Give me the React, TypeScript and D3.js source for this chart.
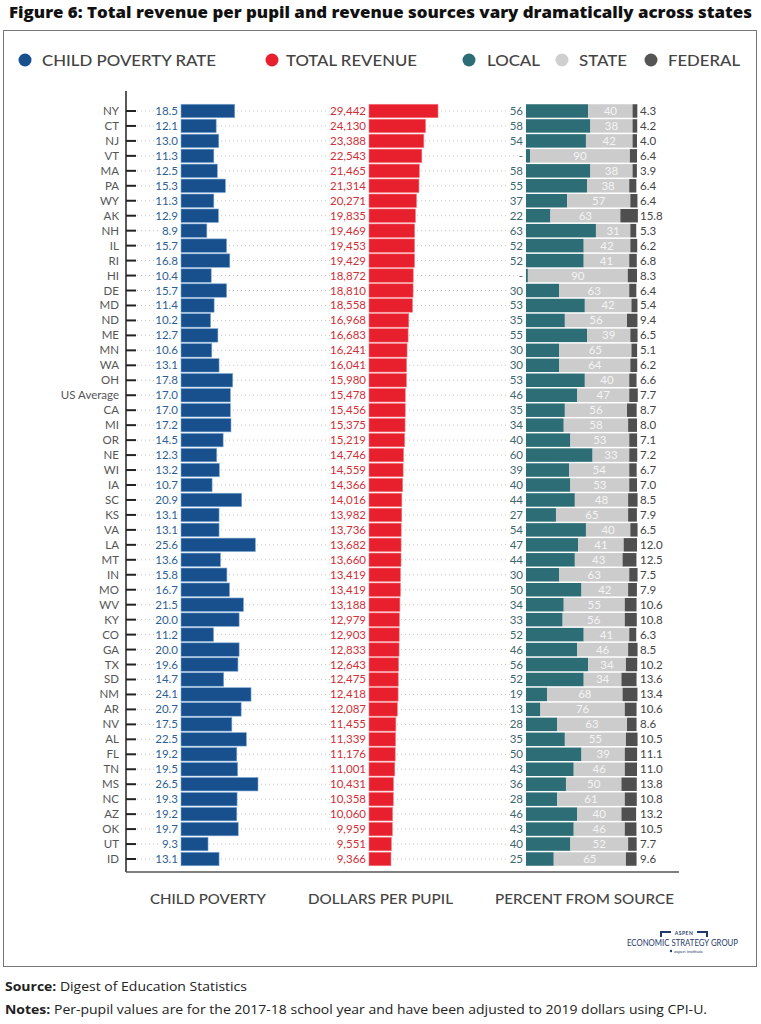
import React from "react";
import * as d3 from "d3";

const states = ["NY","CT","NJ","VT","MA","PA","WY","AK","NH","IL","RI","HI","DE","MD","ND","ME","MN","WA","OH","US Average","CA","MI","OR","NE","WI","IA","SC","KS","VA","LA","MT","IN","MO","WV","KY","CO","GA","TX","SD","NM","AR","NV","AL","FL","TN","MS","NC","AZ","OK","UT","ID"];
const poverty = [18.5,12.1,13.0,11.3,12.5,15.3,11.3,12.9,8.9,15.7,16.8,10.4,15.7,11.4,10.2,12.7,10.6,13.1,17.8,17.0,17.0,17.2,14.5,12.3,13.2,10.7,20.9,13.1,13.1,25.6,13.6,15.8,16.7,21.5,20.0,11.2,20.0,19.6,14.7,24.1,20.7,17.5,22.5,19.2,19.5,26.5,19.3,19.2,19.7,9.3,13.1];
const revenue = [29442,24130,23388,22543,21465,21314,20271,19835,19469,19453,19429,18872,18810,18558,16968,16683,16241,16041,15980,15478,15456,15375,15219,14746,14559,14366,14016,13982,13736,13682,13660,13419,13419,13188,12979,12903,12833,12643,12475,12418,12087,11455,11339,11176,11001,10431,10358,10060,9959,9551,9366];
const local = [56,58,54,3.6,58,55,37,22,63,52,52,1.7,30,53,35,55,30,30,53,46,35,34,40,60,39,40,44,27,54,47,44,30,50,34,33,52,46,56,52,19,13,28,35,50,43,36,28,46,43,40,25];
const stateShare = [40,38,42,90,38,38,57,63,31,42,41,90,63,42,56,39,65,64,40,47,56,58,53,33,54,53,48,65,40,41,43,63,42,55,56,41,46,34,34,68,76,63,55,39,46,50,61,40,46,52,65];
const federal = [4.3,4.2,4.0,6.4,3.9,6.4,6.4,15.8,5.3,6.2,6.8,8.3,6.4,5.4,9.4,6.5,5.1,6.2,6.6,7.7,8.7,8.0,7.1,7.2,6.7,7.0,8.5,7.9,6.5,12.0,12.5,7.5,7.9,10.6,10.8,6.3,8.5,10.2,13.6,13.4,10.6,8.6,10.5,11.1,11.0,13.8,10.8,13.2,10.5,7.7,9.6];

const legendItems = [
  { label: "CHILD POVERTY RATE", color: "#17508d", cx: 25, tx: 42, w: 174 },
  { label: "TOTAL REVENUE", color: "#e8202e", cx: 272, tx: 286, w: 131 },
  { label: "LOCAL", color: "#2c6d76", cx: 469, tx: 487, w: 53 },
  { label: "STATE", color: "#cfcfcf", cx: 562, tx: 579, w: 48 },
  { label: "FEDERAL", color: "#555555", cx: 651, tx: 668, w: 72 },
];
const axisTitles = [
  { label: "CHILD POVERTY", x: 150, w: 116 },
  { label: "DOLLARS PER PUPIL", x: 308, w: 145 },
  { label: "PERCENT FROM SOURCE", x: 495, w: 179 },
];

const FONT = "Lato, 'Open Sans', sans-serif";

export default function App() {
  const y = d3.scaleBand<string>().domain(states).range([103.5, 866.5]).paddingInner(0.1).paddingOuter(0.05);
  const xPov = d3.scaleLinear().domain([0, 26.5]).range([181, 258]);
  const xRev = d3.scaleLinear().domain([0, 29442]).range([369, 438]);
  const xPct = d3.scaleLinear().domain([0, 100]).range([526, 637]);
  const bw = y.bandwidth();
  const fmt = d3.format(",");

  return (
    <svg width={761} height={1024} style={{ position: "absolute", left: 0, top: 0, background: "#fff" }} fontFamily={FONT}>
      <text x={9} y={18} fontSize={16} fontWeight={800} fill="#111" textLength={743} lengthAdjust="spacingAndGlyphs" fontFamily="'Open Sans', sans-serif">
        Figure 6: Total revenue per pupil and revenue sources vary dramatically across states
      </text>
      <rect x={3.5} y={30.5} width={753} height={936} fill="none" stroke="#777" strokeWidth={1} />

      {legendItems.map((d) => (
        <g key={d.label}>
          <circle cx={d.cx} cy={60} r={6.5} fill={d.color} />
          <text x={d.tx} y={65.5} fontSize={15} fill="#444" textLength={d.w} lengthAdjust="spacingAndGlyphs" fontWeight={500}>
            {d.label}
          </text>
        </g>
      ))}

      {/* axes */}
      <line x1={126} x2={126} y1={91} y2={872} stroke="#222" strokeWidth={1.5} />
      <line x1={126} x2={679} y1={872} y2={872} stroke="#555" strokeWidth={1.5} />

      {states.map((s, i) => {
        const top = y(s)!;
        const cy = top + bw / 2;
        const tot = local[i] + stateShare[i];
        return (
          <g key={s}>
            <line x1={137} x2={522} y1={cy} y2={cy} stroke="#c4c4c4" strokeWidth={1} strokeDasharray="1 3" />
            <line x1={126} x2={136} y1={cy} y2={cy} stroke="#222" strokeWidth={2} />
            <text x={119} y={cy + 4} textAnchor="end" fontSize={11.5} fill="#555">{s}</text>
            {/* poverty */}
            <rect x={xPov(0)} y={top} width={xPov(poverty[i]) - xPov(0)} height={bw} fill="#17508d" stroke="#7fa9d6" strokeWidth={0.6} />
            <text x={178} y={cy + 4} textAnchor="end" fontSize={11.5} fill="#2d5f93" stroke="#fff" strokeWidth={3} paintOrder="stroke">
              {poverty[i].toFixed(1)}
            </text>
            {/* revenue */}
            <rect x={xRev(0)} y={top} width={xRev(revenue[i]) - xRev(0)} height={bw} fill="#e8202e" stroke="#f57a82" strokeWidth={0.6} />
            <text x={366} y={cy + 4} textAnchor="end" fontSize={11.5} fill="#cf3038" stroke="#fff" strokeWidth={3} paintOrder="stroke">
              {fmt(revenue[i])}
            </text>
            {/* percent */}
            <rect x={xPct(0)} y={top} width={xPct(local[i]) - xPct(0)} height={bw} fill="#2c6d76" />
            <rect x={xPct(local[i])} y={top} width={xPct(tot) - xPct(local[i])} height={bw} fill="#cccccc" />
            <rect x={xPct(tot)} y={top} width={xPct(tot + federal[i]) - xPct(tot)} height={bw} fill="#4f4f4f" />
            <text x={523} y={cy + 4} textAnchor="end" fontSize={11.5} fill="#3e6870" stroke="#fff" strokeWidth={3} paintOrder="stroke">
              {local[i] < 10 ? "-" : String(local[i])}
            </text>
            <text x={(xPct(local[i]) + xPct(tot)) / 2} y={cy + 4} textAnchor="middle" fontSize={11.5} fill="#f4f4f4">
              {stateShare[i]}
            </text>
            <text x={640} y={cy + 4} fontSize={11.5} fill="#444">{federal[i].toFixed(1)}</text>
          </g>
        );
      })}

      {axisTitles.map((d) => (
        <text key={d.label} x={d.x} y={904} fontSize={13.5} fill="#444" textLength={d.w} lengthAdjust="spacingAndGlyphs" fontWeight={500}>
          {d.label}
        </text>
      ))}

      {/* logo */}
      <g fill="none" stroke="#1f3a6b" strokeWidth={2}>
        <path d="M661,937 L661,932 L671,932" />
        <path d="M697,932 L707,932 L707,937" />
      </g>
      <text x={684} y={935} textAnchor="middle" fontSize={5} fontWeight={700} fill="#1f3a6b" letterSpacing={0.5}>ASPEN</text>
      <text x={627} y={945.5} fontSize={8.5} fill="#1f3a6b" textLength={111} lengthAdjust="spacingAndGlyphs">ECONOMIC STRATEGY GROUP</text>
      <circle cx={671} cy={951} r={1.2} fill="#1f3a6b" />
      <text x={674} y={952.5} fontSize={4.5} fill="#1f3a6b">aspen institute</text>

      <text x={5} y={991} fontSize={13} fill="#222" textLength={242} lengthAdjust="spacingAndGlyphs" fontFamily="'Open Sans', sans-serif">
        <tspan fontWeight={700}>Source:</tspan> Digest of Education Statistics
      </text>
      <text x={5} y={1014} fontSize={13} fill="#222" textLength={702} lengthAdjust="spacingAndGlyphs" fontFamily="'Open Sans', sans-serif">
        <tspan fontWeight={700}>Notes:</tspan> Per-pupil values are for the 2017-18 school year and have been adjusted to 2019 dollars using CPI-U.
      </text>
    </svg>
  );
}
